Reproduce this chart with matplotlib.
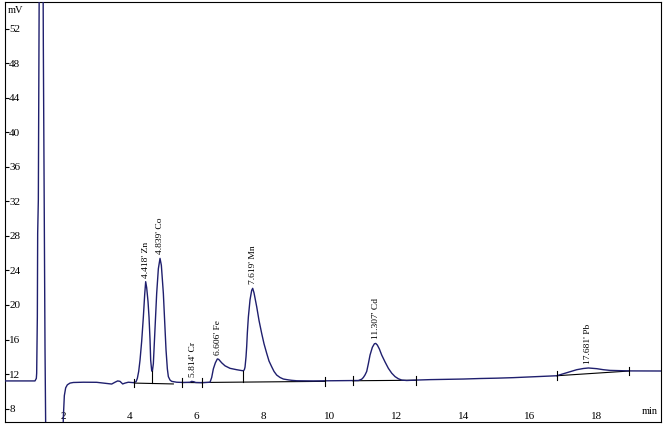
import numpy as np
import matplotlib
matplotlib.use('Agg')
import matplotlib.pyplot as plt

plt.rcParams['font.family'] = ['Liberation Serif', 'DejaVu Serif']

# chromatogram trace (min, mV)
time_min = [0.25, 1.15, 1.19, 1.20, 1.22, 1.23, 1.25, 1.27, 1.30, 1.36, 1.39, 1.40, 1.43,
            1.45, 1.47, 1.55, 1.90, 1.99, 2.00, 2.03, 2.07, 2.12, 2.20, 2.30, 2.60, 3.00,
            3.20, 3.45, 3.55, 3.63, 3.70, 3.78, 3.85, 3.95, 4.10, 4.18, 4.22, 4.26, 4.30,
            4.35, 4.40, 4.44, 4.47, 4.50, 4.54, 4.57, 4.60, 4.62, 4.65, 4.67, 4.70, 4.72,
            4.76, 4.80, 4.85, 4.90, 4.94, 5.00, 5.04, 5.08, 5.12, 5.15, 5.20, 5.25, 5.40,
            5.60, 5.80, 5.85, 5.92, 5.97, 6.20, 6.40, 6.45, 6.50, 6.56, 6.62, 6.66, 6.75,
            6.85, 7.00, 7.20, 7.35, 7.40, 7.43, 7.45, 7.48, 7.50, 7.52, 7.55, 7.60, 7.65,
            7.68, 7.72, 7.76, 7.80, 7.87, 7.95, 8.02, 8.10, 8.17, 8.25, 8.32, 8.40, 8.50,
            8.60, 8.75, 8.85, 9.00, 9.50, 10.00, 10.50, 10.85, 10.95, 11.00, 11.05, 11.10,
            11.15, 11.20, 11.27, 11.33, 11.37, 11.42, 11.48, 11.55, 11.65, 11.75, 11.85,
            11.95, 12.05, 12.15, 12.30, 12.60, 13.00, 13.50, 14.00, 14.50, 15.00, 15.50,
            16.00, 16.60, 16.80, 17.10, 17.40, 17.60, 17.75, 18.00, 18.20, 18.40, 19.00,
            19.92]
signal_mv = [11.2, 11.2, 11.5, 12.1, 18.6, 28.3, 32.2, 52.8, 70.0, 70.0, 60.0, 50.0, 30.0,
             15.0, 6.0, 4.0, 4.0, 5.0, 7.0, 9.5, 10.4, 10.75, 10.95, 11.02, 11.05, 11.04,
             10.95, 10.84, 11.05, 11.2, 11.15, 10.85, 10.95, 11.05, 11.0, 11.1, 11.5, 12.3, 13.6,
             15.8, 18.6, 21.2, 22.7, 22.0, 20.4, 18.6, 16.0, 13.6, 12.4, 12.3, 13.2, 14.8,
             18.0, 21.35, 24.2, 25.4, 24.6, 21.35, 18.0, 14.8, 12.6, 11.7, 11.3, 11.15, 11.05,
             11.02, 11.05, 11.15, 11.1, 11.02, 11.0, 11.05, 11.6, 12.6, 13.3, 13.75, 13.7, 13.3,
             12.95, 12.66, 12.5, 12.4, 12.38, 12.5, 12.8, 14.0, 15.2, 16.8, 18.6, 20.6, 21.7,
             21.93, 21.4, 20.6, 19.8, 18.2, 16.7, 15.5, 14.4, 13.5, 12.84, 12.3, 11.88, 11.6,
             11.42, 11.32, 11.27, 11.22, 11.2, 11.22, 11.25, 11.25, 11.4, 11.6, 11.9, 12.3,
             13.2, 14.2, 15.1, 15.5, 15.55, 15.35, 14.9, 14.2, 13.4, 12.66, 12.1,
             11.7, 11.45, 11.3, 11.25, 11.3, 11.35, 11.38, 11.42, 11.48, 11.52, 11.58,
             11.66, 11.76, 11.8, 12.15, 12.5, 12.64, 12.7, 12.62, 12.5, 12.42, 12.36,
             12.35]

# integration baselines (start, end) in min and mV
base_t0 = [4.13, 5.55, 6.15, 10.68, 16.80]
base_t1 = [5.30, 6.15, 9.84, 12.58, 18.98]
base_v0 = [10.95, 11.02, 11.02, 11.22, 11.80]
base_v1 = [10.85, 11.00, 11.15, 11.28, 12.35]

# peak start/end markers and valley drop lines
marker_times = [4.13, 5.55, 6.15, 9.84, 10.68, 12.58, 16.80, 18.98]
drop_times = [4.65, 7.40]

# peak annotations
peak_apex = [4.47, 4.90, 5.88, 6.64, 7.68, 11.37, 17.75]
peak_rt = ["4.418'", "4.839'", "5.814'", "6.606'", "7.619'", "11.307'", "17.681'"]
peak_name = ['Zn', 'Co', 'Cr', 'Fe', 'Mn', 'Cd', 'Pb']

x_ticks = [2, 4, 6, 8, 10, 12, 14, 16, 18]
y_ticks = [8, 12, 16, 20, 24, 28, 32, 36, 40, 44, 48, 52]

trace_col = '#1f1f6e'

fig = plt.figure(figsize=(6.67, 4.29), dpi=100)
ax = fig.add_axes([0.0075, 0.0163, 0.9831, 0.9797])

ax.plot(time_min, signal_mv, color=trace_col, lw=1.0, zorder=3)


def base_at(t):
    for a, b, va, vb in zip(base_t0, base_t1, base_v0, base_v1):
        if a <= t <= b:
            return va + (vb - va) * (t - a) / (b - a)
    return np.interp(t, time_min, signal_mv)


for a, b, va, vb in zip(base_t0, base_t1, base_v0, base_v1):
    ax.plot([a, b], [va, vb], color='black', lw=0.8, zorder=2)

for t in marker_times:
    v = base_at(t)
    ax.plot([t, t], [v - 0.5, v + 0.5], color='black', lw=0.8, zorder=4)

for t in drop_times:
    ax.plot([t, t], [base_at(t), np.interp(t, time_min, signal_mv)],
            color='black', lw=0.8, zorder=4)

for t, rt, name in zip(peak_apex, peak_rt, peak_name):
    y = np.interp(t, time_min, signal_mv)
    ax.annotate(rt + ' ' + name, xy=(t, y), xytext=(0, 3), textcoords='offset points',
                rotation=90, ha='center', va='bottom', fontsize=6.8)

ax.set_xlim(0.25, 19.92)
ax.set_ylim(6.44, 55.14)

ax.set_xticks(x_ticks)
ax.set_yticks(y_ticks)
ax.set_xticklabels([str(v) for v in x_ticks])
ax.set_yticklabels([str(v) for v in y_ticks])

ax.tick_params(axis='y', direction='in', length=3, width=0.8, pad=-3, labelsize=8)
ax.tick_params(axis='x', length=0, pad=-1, labelsize=8)
for lab in ax.get_yticklabels():
    lab.set_horizontalalignment('left')
for lab in ax.get_xticklabels():
    lab.set_verticalalignment('bottom')

for sp in ax.spines.values():
    sp.set_color('black')
    sp.set_linewidth(0.8)

ax.annotate('mV', xy=(0, 1), xycoords='axes fraction', xytext=(2.2, -6),
            textcoords='offset points', ha='left', va='center', fontsize=7.5)
ax.annotate('min', xy=(1, 0), xycoords='axes fraction', xytext=(-2.5, 7.4),
            textcoords='offset points', ha='right', va='center', fontsize=7.5)

fig.savefig('out.png', dpi=100)
